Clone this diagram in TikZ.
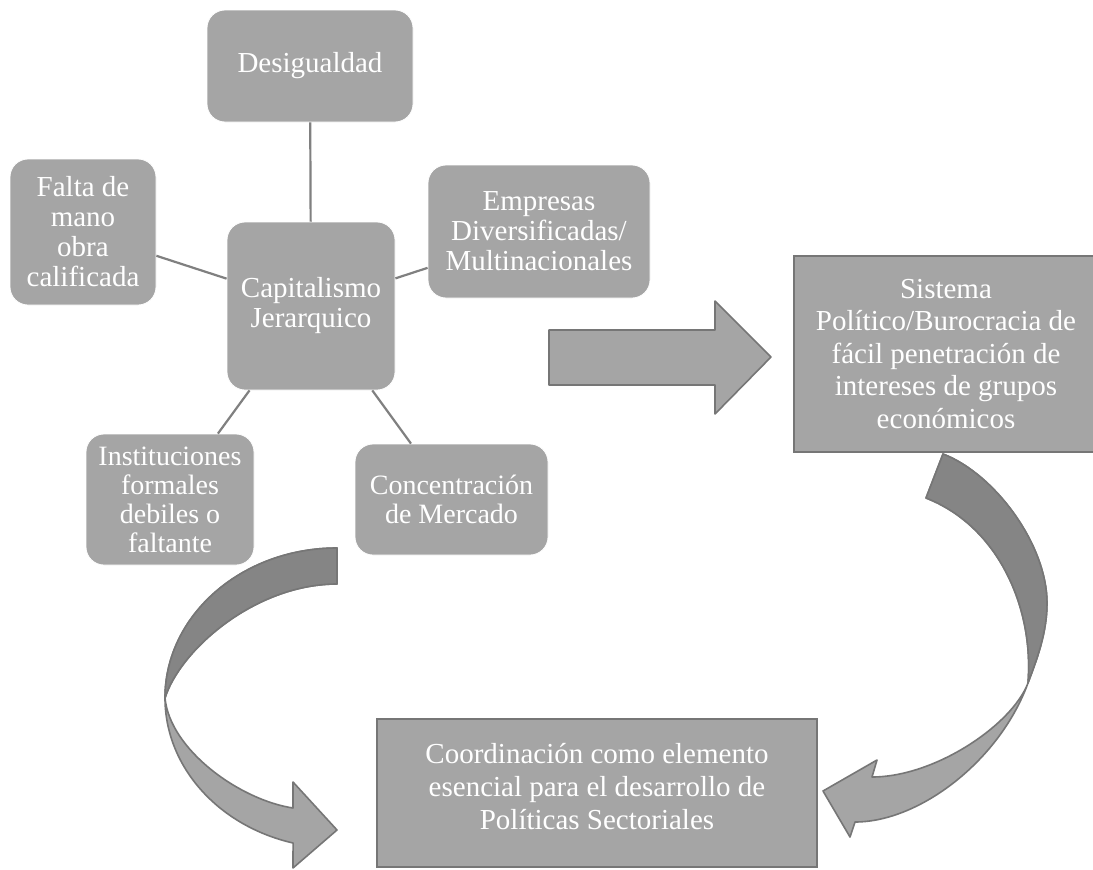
\documentclass[tikz,border=0pt]{standalone}
\usepackage{fontspec}
\setmainfont{Liberation Serif}
\definecolor{boxgray}{HTML}{A5A5A5}
\definecolor{edgegray}{HTML}{767676}
\definecolor{linegray}{HTML}{808080}
\definecolor{darkgray2}{HTML}{858585}
\begin{document}
\begin{tikzpicture}[x=1pt,y=-1pt,
  box/.style={fill=boxgray, draw=white, line width=0.8pt, rounded corners=18pt, text=white, align=center, inner sep=0pt, font=\fontsize{29pt}{30pt}\selectfont},
  rbox/.style={fill=boxgray, draw=edgegray, line width=2pt, text=white, align=center, inner sep=0pt, font=\fontsize{29pt}{32.5pt}\selectfont},
  link/.style={draw=linegray, line width=2.2pt},
  bandlight/.style={fill=boxgray, draw=edgegray, line width=1.6pt, line join=round},
  banddark/.style={fill=darkgray2, draw=edgegray, line width=1.6pt, line join=round}]
\clip (0,0) rectangle (1093,870);
\fill[white] (0,0) rectangle (1093,870);

% boxes
\node[box, minimum width=206pt, minimum height=112pt] (des) at (310,66) {Desigualdad};
\node[box, minimum width=168pt, minimum height=168pt] (cap) at (311,306) {Capitalismo\\Jerarquico};
\node[box, minimum width=146pt, minimum height=146pt] (fal) at (83,232) {Falta de\\mano\\obra\\calificada};
\node[box, minimum width=222pt, minimum height=133pt] (emp) at (539,231.5) {Empresas\\Diversificadas/\\Multinacionales};
\node[box, minimum width=168pt, minimum height=131pt, font=\fontsize{28pt}{29pt}\selectfont] (ins) at (170,499.5) {Instituciones\\formales\\debiles o\\faltante};
\node[box, minimum width=193pt, minimum height=111pt, font=\fontsize{28pt}{29pt}\selectfont] (con) at (451.5,499.5) {Concentraci\'on\\de Mercado};

\node[rbox, minimum width=304pt, minimum height=196pt] (sis) at (946,354) {Sistema\\Pol\'itico/Burocracia de\\f\'acil penetraci\'on de\\intereses de grupos\\econ\'omicos};
\node[rbox, minimum width=440pt, minimum height=148pt, font=\fontsize{29pt}{33pt}\selectfont] (coo) at (597,793) {Coordinaci\'on como elemento\\esencial para el desarrollo de\\Pol\'iticas Sectoriales\\[-19pt]\mbox{}};

% connectors
\draw[link] (cap) -- (des);
\draw[link] (cap) -- (fal);
\draw[link] (cap) -- (emp);
\draw[link] (cap) -- (ins);
\draw[link] (cap) -- (con);

% straight block arrow
\path[bandlight] (549,330) -- (715,330) -- (715,301) -- (771,357) -- (715,414) -- (715,385) -- (549,385) -- cycle;

% left curved arrow
\path[bandlight] (337,548) arc[start angle=270, end angle=104.8, x radius=172, y radius=150]
 -- (293,868) -- (337,830) -- (293,782) -- (293,808)
 .. controls (240,800) and (170,750) .. (165,698)
 .. controls (180,650) and (255,584) .. (337,584) -- cycle;
\path[banddark] (337,548) arc[start angle=270, end angle=180, x radius=172, y radius=150]
 .. controls (180,650) and (255,584) .. (337,584) -- cycle;

% right curved arrow
\path[bandlight] (943,454) .. controls (995,474) and (1047,545) .. (1047,603)
 .. controls (1047,633) and (1037,659) .. (1028,683)
 .. controls (1000,760) and (920,822) .. (855,822)
 -- (850,837) -- (823,791) -- (877,760) -- (872,777)
 .. controls (935,777) and (1012,725) .. (1028,683)
 .. controls (1034,610) and (1000,527) .. (926,498) -- cycle;
\path[banddark] (943,454) .. controls (995,474) and (1047,545) .. (1047,603)
 .. controls (1047,633) and (1037,659) .. (1028,683)
 .. controls (1034,610) and (1000,527) .. (926,498) -- cycle;
\end{tikzpicture}
\end{document}
